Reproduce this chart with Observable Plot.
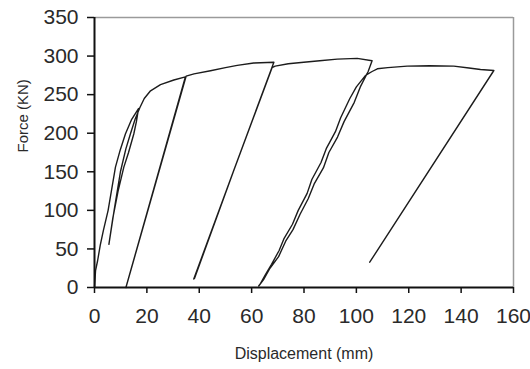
<!DOCTYPE html>
<html><head><meta charset="utf-8">
<script src="https://cdn.jsdelivr.net/npm/d3@7"></script>
<script src="https://cdn.jsdelivr.net/npm/@observablehq/plot@0.6"></script>
<style>body{margin:0;background:#fff;}</style>
</head><body><div id="chart"></div>
<script>
// Hysteresis path: displacement (mm) and force (kN), in drawing order
const displacement = [
  0, 0.4, 1.2, 2.2, 3.4, 5.2, 8.0, 9.8, 11.8, 14.2, 16.8,
  16.0, 15.0, 13.0, 11.2, 9.0, 7.0, 5.5,
  7.5, 9.9, 12.0, 13.7, 15.5, 17.3,
  19.0, 21.4, 25.2, 30.3, 34.7,
  23.3, 12.0,
  23.5, 35.0,
  38.0, 44.3, 50.0, 54.5, 60.8, 68.5,
  53.2, 37.9,
  38.2, 53.0, 67.8,
  69.0, 74.0, 79.9, 86.0, 92.7, 100.3, 106.0,
  104.5, 101.5, 99.2, 95.3, 92.8, 89.5, 87.4, 84.0, 81.6, 78.5, 75.8, 73.0, 70.3, 67.0, 64.5, 62.7,
  63.2, 65.5, 67.6, 70.5, 72.3, 75.6, 77.8, 81.2, 83.0, 86.5, 88.5, 92.0, 94.0, 97.5, 100.0, 103.5, 106.0,
  108.0, 112.0, 119.4, 128.0, 137.2, 143.0, 147.4, 152.5,
  105.1
];
const force = [
  0, 22, 35, 55, 74, 100, 156, 178, 199, 218, 232,
  215, 199, 175, 156, 125, 90, 56,
  100, 150, 180, 199, 218, 233,
  245, 255, 263, 269, 273,
  136, 0,
  137, 274,
  277, 281, 285, 288, 291, 292,
  152, 11,
  12, 150, 285,
  287, 290, 292, 294, 296, 297, 294,
  280, 260, 240, 215, 195, 175, 155, 135, 115, 95, 75, 60, 40, 25, 10, 2,
  4, 18, 30, 48, 63, 82, 100, 122, 140, 162, 180, 202, 220, 245, 260, 275, 280,
  283.5, 285, 287, 287.5, 287, 284.5, 282.6, 281.3,
  32.8
];
const xTicks = [0, 20, 40, 60, 80, 100, 120, 140, 160];
const yTicks = [0, 50, 100, 150, 200, 250, 300, 350];
const xTitle = "Displacement (mm)";
const yTitle = "Force (KN)";

const data = displacement.map((d, i) => ({d, f: force[i]}));

const chart = Plot.plot({
  width: 530, height: 369,
  marginLeft: 94, marginRight: 17, marginTop: 17, marginBottom: 82,
  style: {fontFamily: "'Liberation Sans', Arial, sans-serif", background: "#fff", color: "#2a2a2a"},
  x: {domain: [0, 160], label: null},
  y: {domain: [0, 350], label: null},
  marks: [
    Plot.ruleY([350], {stroke: "#9a9a9a", strokeWidth: 1.5}),
    Plot.ruleX([160], {stroke: "#9a9a9a", strokeWidth: 1.5}),
    Plot.line(data, {x: "d", y: "f", stroke: "#1c1c1c", strokeWidth: 1.4, curve: "linear"}),
    Plot.ruleX([0], {stroke: "#111", strokeWidth: 2}),
    Plot.ruleY([0], {stroke: "#111", strokeWidth: 2}),
    Plot.axisX({ticks: xTicks, tickSize: 6, tickPadding: 15, fontSize: 21, label: null, stroke: "#111", strokeWidth: 1.5}),
    Plot.axisY({ticks: yTicks, tickSize: 7, tickPadding: 9, fontSize: 21, label: null, stroke: "#111", strokeWidth: 1.5}),
    Plot.text([xTitle], {frameAnchor: "bottom", dy: 71, fontSize: 16, fill: "#2a2a2a"}),
    Plot.text([yTitle], {frameAnchor: "left", dx: -71, rotate: -90, fontSize: 15, fill: "#2a2a2a"})
  ]
});
document.getElementById("chart").appendChild(chart);
</script>
</body></html>
